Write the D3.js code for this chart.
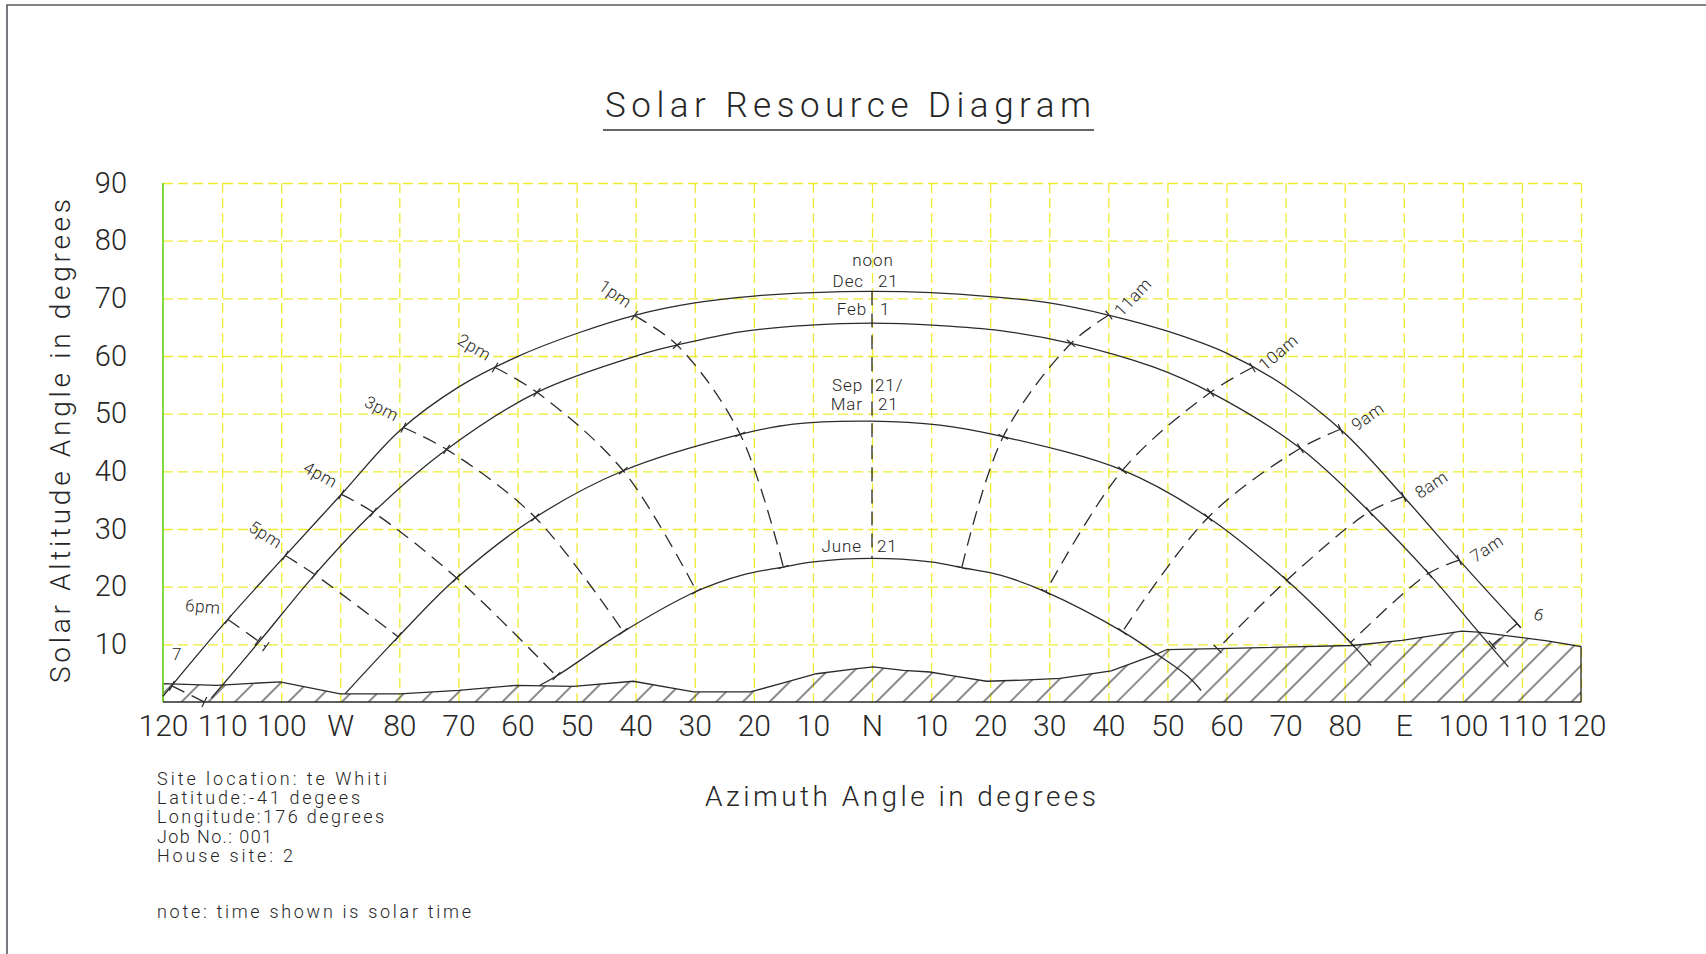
<!DOCTYPE html>
<html>
<head>
<meta charset="utf-8">
<script src="https://cdn.jsdelivr.net/npm/d3@7/dist/d3.min.js"></script>
<style>
body { margin: 0; background: #fff; }
text { font-family: Roboto, "Liberation Sans", sans-serif; font-weight: 300; fill: #262626; }
</style>
</head>
<body>
<div class="chart"></div>
<script>
// azimuth: negative = west (afternoon, left), positive = east (morning, right)
var azTicks = [-120, -110, -100, -90, -80, -70, -60, -50, -40, -30, -20, -10, 0,
               10, 20, 30, 40, 50, 60, 70, 80, 90, 100, 110, 120];
var azTickLabels = ["120", "110", "100", "W", "80", "70", "60", "50", "40", "30", "20", "10", "N",
                    "10", "20", "30", "40", "50", "60", "70", "80", "E", "100", "110", "120"];
var altTicks = [10, 20, 30, 40, 50, 60, 70, 80, 90];
var altTickLabels = ["10", "20", "30", "40", "50", "60", "70", "80", "90"];

// sun paths [azimuth, altitude]
var dec21 = [[-120, 1.0], [-110, 13.2], [-100, 24.6], [-90, 35.8], [-80, 47.0], [-70, 54.6],
             [-60, 59.9], [-50, 63.9], [-40, 67.1], [-30, 69.2], [-20, 70.4], [-10, 71.0], [0, 71.2],
             [10, 71.0], [20, 70.3], [30, 69.2], [40, 67.1], [50, 64.3], [60, 60.5], [70, 54.7],
             [80, 46.6], [90, 35.6], [100, 23.9], [109.7, 13.0]];
var feb1 = [[-111.8, 0.7], [-103.6, 10.6], [-94.3, 22.1], [-84.4, 32.9], [-72.0, 43.8],
            [-56.7, 53.7], [-39.3, 60.2], [-33, 61.9], [-22.3, 64.2], [-11, 65.3], [0, 65.7],
            [11, 65.3], [21.7, 64.4], [33.7, 62.2], [47.6, 58.1], [57.3, 53.7], [72.5, 44.0],
            [84.2, 33.0], [94.2, 22.3], [102.6, 12.2], [107.7, 6.1]];
var equinox = [[-89.2, 1.4], [-80.2, 11.3], [-70.3, 21.5], [-57.0, 32.0], [-42.1, 40.1],
               [-22.3, 46.4], [-13.3, 48.2], [0, 48.7], [11.5, 48.0], [22.2, 46.0],
               [42.4, 40.2], [56.9, 32.0], [70.2, 21.1], [81, 10.3], [84.5, 6.3]];
var june21 = [[-56.2, 2.9], [-53.4, 4.5], [-42.1, 12.2], [-29.7, 19.2], [-21.7, 22.1],
              [-15.0, 23.4], [-9.9, 24.3], [0, 24.9], [9.9, 24.3], [15.2, 23.3], [21.7, 22.0],
              [29.4, 19.1], [42.4, 12.2], [48.2, 8.3], [53.4, 4.5], [55.7, 2.0]];

// hour lines, outermost (Dec 21) point first
var hourNames = ["7", "6pm", "5pm", "4pm", "3pm", "2pm", "1pm", "noon",
                 "11am", "10am", "9am", "8am", "7am", "6"];
var hourPoints = [
    [[-118.5, 2.8], [-113, 0]],
    [[-109, 14.3], [-103.9, 10.6], [-102.6, 9.6]],
    [[-99.3, 25.4], [-94.3, 22.1], [-80.2, 11.3]],
    [[-89.8, 36.0], [-84.4, 32.9], [-70.3, 21.5], [-53.4, 4.5]],
    [[-79.3, 47.6], [-72.0, 43.8], [-57.0, 32.0], [-42.1, 12.2]],
    [[-63.8, 58.0], [-56.7, 53.7], [-42.1, 40.1], [-29.7, 19.2]],
    [[-40.2, 67.0], [-33, 61.9], [-22.3, 46.4], [-15.0, 23.4]],
    [[0, 71.2], [0, 65.7], [0, 48.7], [0, 24.9]],
    [[40.1, 67.1], [33.7, 62.2], [22.2, 46.0], [15.2, 23.3]],
    [[64.4, 58.0], [57.3, 53.7], [42.4, 40.2], [29.4, 19.1]],
    [[79.3, 47.3], [72.5, 44.0], [56.9, 32.0], [42.4, 12.2]],
    [[90, 35.6], [84.2, 33.0], [70.2, 21.1], [58.5, 9.2]],
    [[99.4, 24.6], [94.2, 22.3], [81, 10.3]],
    [[109.2, 13.6], [105, 9.9]]
];

// skyline obstruction
var horizon = [[-120, 3.2], [-110.9, 2.9], [-100.2, 3.5], [-90, 1.4], [-79.9, 1.4], [-70, 2.0],
               [-60.2, 2.9], [-50.5, 2.7], [-40.4, 3.6], [-30.2, 1.75], [-20.6, 1.75],
               [-15.0, 3.3], [-9.4, 4.9], [-3.2, 5.7], [0.2, 6.1], [5.3, 5.5], [9.8, 5.2],
               [13.2, 4.6], [19.4, 3.6], [25.6, 3.8], [31.8, 4.1], [40.5, 5.4], [48.2, 8.3],
               [49.9, 9.1], [60.5, 9.3], [81.3, 9.8], [89.7, 10.7], [99.8, 12.3], [102.6, 12.1],
               [109.7, 11.2], [114.3, 10.6], [120, 9.6]];

var siteInfo = ["Site location: te Whiti", "Latitude:-41 degees", "Longitude:176 degrees",
                "Job No.: 001", "House site: 2"];
var noteText = "note: time shown is solar time";

var x = d3.scaleLinear().domain([-120, 120]).range([163, 1581]);
var y = d3.scaleLinear().domain([0, 90]).range([702, 183]);

function px(p) { return [x(p[0]), y(p[1])]; }

// hand placement for the few labels that do not follow their hour line
var labelTweak = {
    "7": { dx: 5, dy: -32, rot: 0 },
    "6pm": { dx: -25, dy: -13, rot: 5 },
    "6": { dx: 22, dy: -9, rot: 20 }
};

function drawChart(width, height) {
    var svg = d3.select(".chart").append("svg")
        .attr("width", width)
        .attr("height", height);

    var defs = svg.append("defs");
    defs.append("pattern")
        .attr("id", "hatch")
        .attr("patternUnits", "userSpaceOnUse")
        .attr("width", 18.9)
        .attr("height", 18.9)
        .attr("patternTransform", "rotate(45)")
        .append("line")
        .attr("x1", 1).attr("y1", 0).attr("x2", 1).attr("y2", 18.9)
        .attr("stroke", "#2a2a2a")
        .attr("stroke-width", 1.1);

    // page frame (scan border)
    svg.append("path")
        .attr("d", "M7," + height + "V5H" + width)
        .attr("fill", "none")
        .attr("stroke", "#55585f")
        .attr("stroke-width", 1.6);

    // title
    svg.append("text")
        .attr("x", 605).attr("y", 117)
        .attr("font-size", 35)
        .attr("textLength", 486)
        .attr("lengthAdjust", "spacing")
        .text("Solar Resource Diagram");
    svg.append("line")
        .attr("x1", 603).attr("x2", 1094)
        .attr("y1", 130).attr("y2", 130)
        .attr("stroke", "#333").attr("stroke-width", 1.5);

    // yellow grid
    var grid = svg.append("g");
    grid.append("g")
        .attr("transform", "translate(0," + y(0) + ")")
        .call(d3.axisBottom(x).tickValues(azTicks.slice(1)).tickSize(y(0) - y(90)).tickSizeOuter(0).tickFormat(""))
        .call(function(g) { g.select(".domain").remove(); })
        .selectAll("line")
        .attr("transform", "translate(0," + (y(90) - y(0)) + ")");
    grid.append("g")
        .attr("transform", "translate(" + x(-120) + ",0)")
        .call(d3.axisRight(y).tickValues(altTicks).tickSize(x(120) - x(-120)).tickFormat(""))
        .call(function(g) { g.select(".domain").remove(); });
    grid.selectAll("line")
        .attr("stroke", "#eeeb30")
        .attr("stroke-width", 1.3)
        .attr("stroke-dasharray", "10,5");

    // obstruction
    var area = d3.area()
        .x(function(d) { return x(d[0]); })
        .y0(y(0))
        .y1(function(d) { return y(d[1]); });
    svg.append("path")
        .datum(horizon)
        .attr("d", area)
        .attr("fill", "url(#hatch)");
    var outline = [[-120, 0]].concat(horizon, [[120, 0]]);
    svg.append("path")
        .datum(outline)
        .attr("d", d3.line().x(function(d) { return x(d[0]); }).y(function(d) { return y(d[1]); }))
        .attr("fill", "none")
        .attr("stroke", "#2a2a2a")
        .attr("stroke-width", 1.3);

    // left axis (green) and base line
    svg.append("line")
        .attr("x1", x(-120)).attr("x2", x(-120))
        .attr("y1", y(90)).attr("y2", y(0))
        .attr("stroke", "#79d22a").attr("stroke-width", 1.8);
    svg.append("line")
        .attr("x1", x(-120)).attr("x2", x(120))
        .attr("y1", y(0)).attr("y2", y(0))
        .attr("stroke", "#2a2a2a").attr("stroke-width", 1.5);

    // sun paths
    var line = d3.line()
        .x(function(d) { return x(d[0]); })
        .y(function(d) { return y(d[1]); })
        .curve(d3.curveCatmullRom.alpha(0.5));
    svg.append("g")
        .selectAll("path")
        .data([dec21, feb1, equinox, june21])
        .enter()
        .append("path")
        .attr("d", line)
        .attr("fill", "none")
        .attr("stroke", "#2b2b2b")
        .attr("stroke-width", 1.3);

    // hour lines
    var hours = svg.append("g");
    hours.selectAll("path")
        .data(hourPoints)
        .enter()
        .append("path")
        .attr("d", line)
        .attr("fill", "none")
        .attr("stroke", "#2b2b2b")
        .attr("stroke-width", 1.3)
        .attr("stroke-dasharray", "14,8");

    hourPoints.forEach(function(pts, i) {
        var name = hourNames[i];
        // small crossing ticks
        pts.forEach(function(p, j) {
            if (name == "noon") return;
            var a = px(pts[Math.max(0, j - 1)]), b = px(pts[Math.min(pts.length - 1, j + 1)]);
            var dx = b[0] - a[0], dy = b[1] - a[1], l = Math.hypot(dx, dy);
            var nx = -dy / l * 5.5, ny = dx / l * 5.5;
            var c = px(p);
            hours.append("line")
                .attr("x1", c[0] - nx).attr("y1", c[1] - ny)
                .attr("x2", c[0] + nx).attr("y2", c[1] + ny)
                .attr("stroke", "#2b2b2b").attr("stroke-width", 1.2);
        });
        if (name == "noon") return;
        var p0 = px(pts[0]), p1 = px(pts[1]);
        var ux = p0[0] - p1[0], uy = p0[1] - p1[1], len = Math.hypot(ux, uy);
        ux /= len; uy /= len;
        var cx, cy, deg;
        if (labelTweak[name]) {
            cx = p0[0] + labelTweak[name].dx;
            cy = p0[1] + labelTweak[name].dy;
            deg = labelTweak[name].rot;
        } else if (ux < 0) {
            var ang = Math.atan2(-uy, -ux);
            cx = p0[0] + 28 * ux + 7 * Math.sin(ang);
            cy = p0[1] + 28 * uy - 7 * Math.cos(ang);
            deg = ang * 180 / Math.PI;
        } else {
            var ang2 = Math.atan2(uy, ux);
            cx = p0[0] + 30 * ux;
            cy = p0[1] + 30 * uy;
            deg = ang2 * 180 / Math.PI - 10;
        }
        hours.append("text")
            .attr("transform", "translate(" + cx + "," + cy + ") rotate(" + deg + ")")
            .attr("text-anchor", "middle")
            .attr("dy", "0.35em")
            .attr("font-size", 17)
            .attr("letter-spacing", 0.5)
            .text(name);
    });

    // date labels on the noon line
    var x0 = x(0);
    var lab = svg.append("g").attr("font-size", 17).attr("letter-spacing", 0.9);
    function pair(left, right, yy, gl, gr) {
        lab.append("text").attr("x", x0 - gl).attr("y", yy).attr("text-anchor", "end").text(left);
        lab.append("text").attr("x", x0 + gr).attr("y", yy).text(right);
    }
    lab.append("text").attr("x", x0 + 1).attr("y", y(dec21[12][1]) - 25)
        .attr("text-anchor", "middle").text("noon");
    pair("Dec", "21", y(dec21[12][1]) - 4, 8, 6);
    pair("Feb", "1", y(feb1[10][1]) - 8, 5, 8);
    pair("Sep", "21/", y(equinox[7][1]) - 30, 9, 3);
    pair("Mar", "21", y(equinox[7][1]) - 11, 9, 6);
    pair("June", "21", y(june21[7][1]) - 6, 10, 5);

    // axes labels
    var xAx = svg.append("g")
        .attr("transform", "translate(0," + y(0) + ")")
        .call(d3.axisBottom(x).tickValues(azTicks).tickSize(0).tickPadding(13)
            .tickFormat(function(d, i) { return azTickLabels[i]; }));
    xAx.select(".domain").remove();
    xAx.selectAll("text").attr("font-size", 30).attr("fill", "#262626")
        .style("font-family", "Roboto, sans-serif").style("font-weight", 300);

    var yAx = svg.append("g")
        .attr("transform", "translate(" + x(-120) + ",0)")
        .call(d3.axisLeft(y).tickValues(altTicks).tickSize(0).tickPadding(36)
            .tickFormat(function(d, i) { return altTickLabels[i]; }));
    yAx.select(".domain").remove();
    yAx.selectAll("text").attr("font-size", 29).attr("fill", "#262626")
        .style("font-family", "Roboto, sans-serif").style("font-weight", 300);

    svg.append("text")
        .attr("transform", "translate(70,683) rotate(-90)")
        .attr("font-size", 28)
        .attr("textLength", 484)
        .attr("lengthAdjust", "spacing")
        .text("Solar Altitude Angle in degrees");

    svg.append("text")
        .attr("x", 705).attr("y", 806)
        .attr("font-size", 28)
        .attr("textLength", 391)
        .attr("lengthAdjust", "spacing")
        .text("Azimuth Angle in degrees");

    // site info
    var infoLen = [230, 203, 227, 115, 136];
    var info = svg.append("g").attr("font-size", 18);
    info.selectAll("text")
        .data(siteInfo)
        .enter()
        .append("text")
        .attr("x", 157)
        .attr("y", function(d, i) { return 785 + i * 19.2; })
        .attr("textLength", function(d, i) { return infoLen[i]; })
        .attr("lengthAdjust", "spacing")
        .text(function(d) { return d; });
    info.append("text")
        .attr("x", 157).attr("y", 918)
        .attr("textLength", 314)
        .attr("lengthAdjust", "spacing")
        .text(noteText);
}

window.onload = function() {
    drawChart(1706, 954);
};
</script>
</body>
</html>
